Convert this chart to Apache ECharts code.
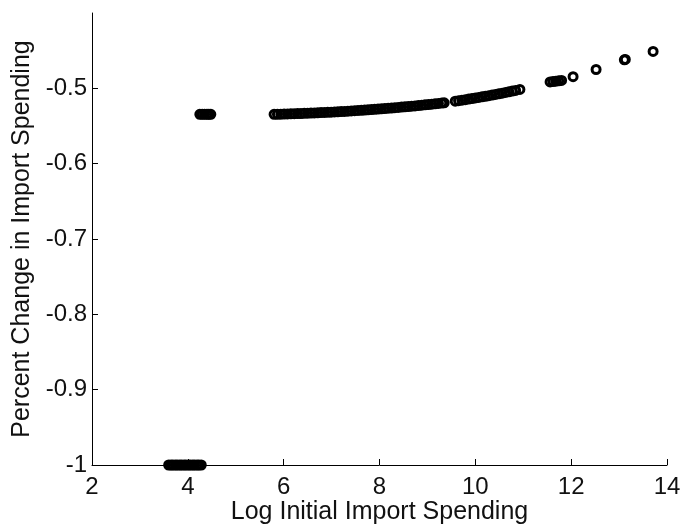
<!DOCTYPE html>
<html>
<head>
<meta charset="utf-8">
<script src="https://cdn.jsdelivr.net/npm/echarts@6/dist/echarts.min.js"></script>
<style>
  html, body { margin: 0; padding: 0; background: #fff; }
  #chart { width: 680px; height: 525px; }
</style>
</head>
<body>
<div id="chart"></div>
<script>
  // points sitting on the -1 floor
  const floorX = [3.60, 3.65, 3.69, 3.74, 3.78, 3.83, 3.87, 3.92, 3.96, 4.01, 4.05, 4.10, 4.14, 4.19, 4.23, 4.28]
  const floorY = [-1, -1, -1, -1, -1, -1, -1, -1, -1, -1, -1, -1, -1, -1, -1, -1]

  // small cluster just right of the floor group
  const smallX = [4.25, 4.30, 4.35, 4.40, 4.44, 4.48]
  const smallY = [-0.5345, -0.5345, -0.5345, -0.5345, -0.5345, -0.5345]

  // main rising band
  const bandX = [
    5.80, 5.87, 5.94, 6.01, 6.08, 6.15, 6.22, 6.29, 6.36, 6.43,
    6.50, 6.57, 6.64, 6.71, 6.78, 6.85, 6.92, 6.99, 7.06, 7.13,
    7.20, 7.27, 7.34, 7.41, 7.48, 7.55, 7.62, 7.69, 7.76, 7.83,
    7.90, 7.97, 8.04, 8.11, 8.18, 8.25, 8.32, 8.39, 8.46, 8.53,
    8.60, 8.67, 8.74, 8.81, 8.88, 8.95, 9.02, 9.09, 9.16, 9.23,
    9.30, 9.35,
    9.58, 9.65, 9.72, 9.79, 9.86, 9.93, 10.00, 10.07, 10.14, 10.21,
    10.28, 10.35, 10.42, 10.49, 10.56, 10.63, 10.70, 10.77, 10.84, 10.93
  ]
  const bandY = [
    -0.5345, -0.5344, -0.5343, -0.5341, -0.5340, -0.5338, -0.5337, -0.5335, -0.5334, -0.5332,
    -0.5330, -0.5328, -0.5326, -0.5324, -0.5322, -0.5320, -0.5318, -0.5316, -0.5313, -0.5311,
    -0.5308, -0.5306, -0.5303, -0.5300, -0.5297, -0.5294, -0.5291, -0.5288, -0.5285, -0.5282,
    -0.5278, -0.5275, -0.5272, -0.5268, -0.5264, -0.5261, -0.5257, -0.5253, -0.5249, -0.5245,
    -0.5241, -0.5237, -0.5233, -0.5228, -0.5224, -0.5219, -0.5215, -0.5210, -0.5206, -0.5201,
    -0.5196, -0.5193,
    -0.5170, -0.5164, -0.5157, -0.5150, -0.5143, -0.5136, -0.5128, -0.5121, -0.5113, -0.5105,
    -0.5097, -0.5089, -0.5081, -0.5072, -0.5064, -0.5055, -0.5046, -0.5037, -0.5028, -0.5015
  ]

  // sparse points at the top end
  const tailX = [11.56, 11.62, 11.68, 11.74, 11.80, 12.04, 12.52, 13.11, 13.13, 13.71]
  const tailY = [-0.4915, -0.4910, -0.4905, -0.4900, -0.4895, -0.4845, -0.4750, -0.4622, -0.4616, -0.4510]

  const xTicks = [2, 4, 6, 8, 10, 12, 14]
  const yTicks = [-1, -0.9, -0.8, -0.7, -0.6, -0.5]

  const pairs = (xs, ys) => xs.map((x, i) => [x, ys[i]])
  const points = [].concat(
    pairs(floorX, floorY),
    pairs(smallX, smallY),
    pairs(bandX, bandY),
    pairs(tailX, tailY)
  )

  const font = '"Liberation Sans", Arial, sans-serif'
  const ink = '#111'

  const chart = echarts.init(document.getElementById('chart'))
  chart.setOption({
    animation: false,
    backgroundColor: '#fff',
    grid: {
      left: 92,
      right: 13,
      top: 13,
      bottom: 60,
      outerBoundsMode: 'none'
    },
    xAxis: {
      type: 'value',
      min: 2,
      max: 14,
      interval: 2,
      name: 'Log Initial Import Spending',
      nameLocation: 'middle',
      nameGap: 35,
      nameMoveOverlap: false,
      nameTextStyle: {color: ink, fontSize: 25, fontFamily: font},
      splitLine: {show: false},
      axisLine: {lineStyle: {color: '#000', width: 1}},
      axisTick: {inside: true, length: 6, lineStyle: {color: '#000'}, customValues: xTicks},
      axisLabel: {color: ink, fontSize: 24, fontFamily: font, margin: 10, customValues: xTicks}
    },
    yAxis: {
      type: 'value',
      min: -1,
      max: -0.4,
      name: 'Percent Change in Import Spending',
      nameLocation: 'middle',
      nameGap: 57,
      nameMoveOverlap: false,
      nameTextStyle: {color: ink, fontSize: 25, fontFamily: font},
      splitLine: {show: false},
      axisLine: {lineStyle: {color: '#000', width: 1}},
      axisTick: {inside: true, length: 6, lineStyle: {color: '#000'}, customValues: yTicks},
      axisLabel: {
        color: ink,
        fontSize: 24,
        fontFamily: font,
        margin: 5,
        customValues: yTicks,
        formatter: v => String(Math.round(v * 10) / 10)
      }
    },
    series: [{
      type: 'scatter',
      clip: false,
      symbol: 'circle',
      symbolSize: 8,
      itemStyle: {color: 'transparent', borderColor: '#000', borderWidth: 3, opacity: 1},
      data: points
    }]
  })
</script>
</body>
</html>
